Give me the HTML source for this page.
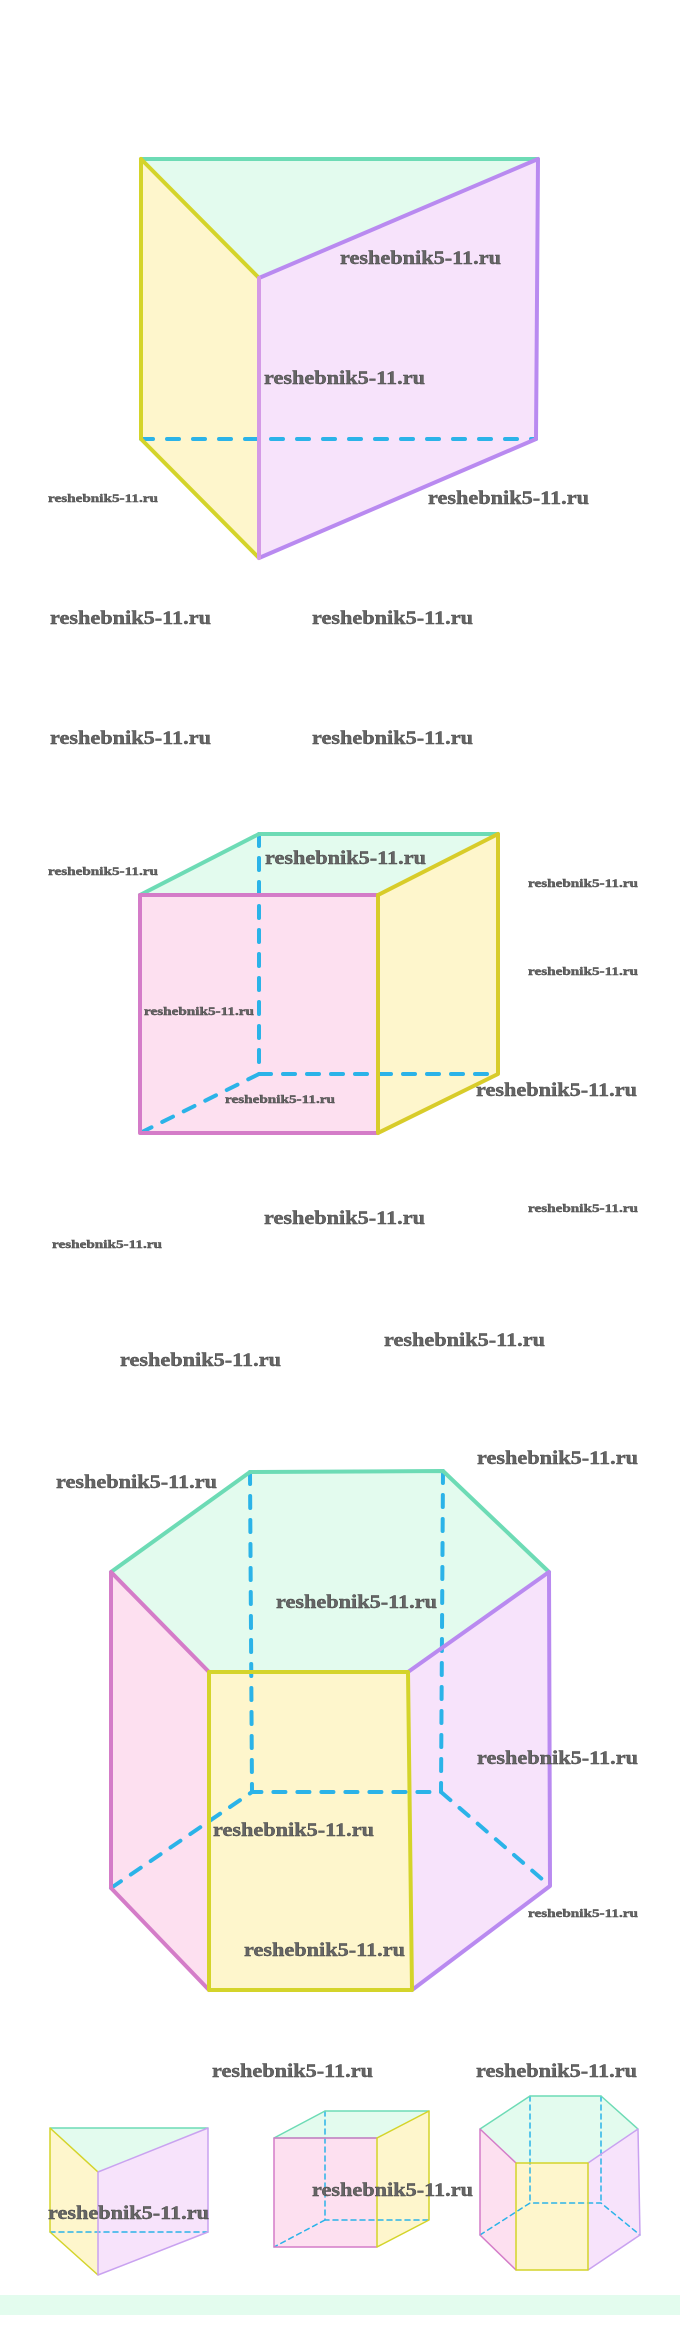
<!DOCTYPE html>
<html><head><meta charset="utf-8"><style>
html,body{margin:0;padding:0;background:#fff;}
svg{display:block;}
text{font-family:"Liberation Serif",serif;font-weight:bold;fill:#666;stroke:#444;stroke-width:0.4;}
.L{font-size:19px;}
.S{font-size:12px;}
</style></head><body>
<svg width="680" height="2348" viewBox="0 0 680 2348" xmlns="http://www.w3.org/2000/svg">
<g stroke-linejoin="round" stroke-linecap="round">
<!-- Triangle prism -->
<polygon points="141,159 538,159 259,278" fill="#e3fbee"/>
<polygon points="141,159 259,278 259,558 141,439" fill="#fef6cc"/>
<polygon points="259,278 538,159 536,439 259,558" fill="#f7e3fb"/>
<line x1="141" y1="439" x2="536" y2="439" stroke="#2bb3e8" stroke-width="4" stroke-dasharray="12,14"/>
<line x1="141" y1="159" x2="538" y2="159" stroke="#6ddbb5" stroke-width="4"/>
<polyline points="141,159 259,278" fill="none" stroke="#d4d42a" stroke-width="4"/>
<polyline points="141,159 141,439 259,558" fill="none" stroke="#d4d42a" stroke-width="4"/>
<polyline points="259,278 538,159 536,439 259,558" fill="none" stroke="#b98af0" stroke-width="4"/>
<line x1="259" y1="278" x2="259" y2="558" stroke="#d49ae6" stroke-width="4"/>

<!-- Cube -->
<polygon points="140,895 259,834 498,834 378,895" fill="#e3fbee"/>
<rect x="140" y="895" width="238" height="238" fill="#fde0f0"/>
<polygon points="378,895 498,834 498,1074 378,1133" fill="#fef6cc"/>
<polyline points="259,834 259,1074 498,1074" fill="none" stroke="#2bb3e8" stroke-width="4" stroke-dasharray="12,12"/>
<line x1="259" y1="1074" x2="140" y2="1133" stroke="#2bb3e8" stroke-width="4" stroke-dasharray="12,12"/>
<polyline points="140,895 259,834 498,834" fill="none" stroke="#6ddbb5" stroke-width="4"/>
<line x1="140" y1="895" x2="378" y2="895" stroke="#7fcfa8" stroke-width="4"/>
<polyline points="378,895 140,895 140,1133 378,1133" fill="none" stroke="#d47cc8" stroke-width="4"/>
<polyline points="378,895 498,834 498,1074 378,1133 378,895" fill="none" stroke="#d8cc2a" stroke-width="4"/>

<!-- Hexagonal prism -->
<polygon points="250,1472 443,1471 549,1572 408,1672 209,1672 111,1572" fill="#e3fbee"/>
<polygon points="111,1572 209,1672 209,1990 111,1888" fill="#fde0f0"/>
<rect x="209" y="1672" width="201" height="318" fill="#fef6cc"/>
<polygon points="408,1672 549,1572 550,1886 412,1990" fill="#f7e3fb"/>
<g fill="none" stroke="#2bb3e8" stroke-width="4" stroke-dasharray="12,12">
<line x1="250" y1="1472" x2="252" y2="1792"/>
<line x1="443" y1="1471" x2="441" y2="1792"/>
<polyline points="111,1888 252,1792 441,1792 550,1886"/>
</g>
<polyline points="111,1572 250,1472 443,1471 549,1572" fill="none" stroke="#6ddbb5" stroke-width="4"/>
<polyline points="209,1672 111,1572 111,1888 209,1990" fill="none" stroke="#d47cc8" stroke-width="4"/>
<polyline points="408,1672 549,1572 550,1886 412,1990" fill="none" stroke="#b98af0" stroke-width="4"/>
<polygon points="209,1672 408,1672 412,1990 209,1990" fill="none" stroke="#d4d42a" stroke-width="4"/>

<!-- small triangle -->
<polygon points="50,2128 208,2128 98,2172" fill="#e3fbee"/>
<polygon points="50,2128 98,2172 98,2275 50,2232" fill="#fef6cc"/>
<polygon points="98,2172 208,2128 208,2232 98,2275" fill="#f7e3fb"/>
<line x1="50" y1="2232" x2="208" y2="2232" stroke="#2bb3e8" stroke-width="1.5" stroke-dasharray="5,4"/>
<line x1="50" y1="2128" x2="208" y2="2128" stroke="#6ddbb5" stroke-width="1.5"/>
<polyline points="98,2172 50,2128 50,2232 98,2275" fill="none" stroke="#d4d42a" stroke-width="1.5"/>
<polyline points="98,2172 208,2128 208,2232 98,2275 98,2172" fill="none" stroke="#c9a2f0" stroke-width="1.5"/>

<!-- small cube -->
<polygon points="274,2138 325,2111 429,2111 377,2138" fill="#e3fbee"/>
<rect x="274" y="2138" width="103" height="109" fill="#fde0f0"/>
<polygon points="377,2138 429,2111 429,2220 377,2247" fill="#fef6cc"/>
<polyline points="325,2111 325,2220 429,2220" fill="none" stroke="#2bb3e8" stroke-width="1.5" stroke-dasharray="5,4"/>
<line x1="325" y1="2220" x2="274" y2="2247" stroke="#2bb3e8" stroke-width="1.5" stroke-dasharray="5,4"/>
<polyline points="274,2138 325,2111 429,2111" fill="none" stroke="#6ddbb5" stroke-width="1.5"/>
<line x1="274" y1="2138" x2="377" y2="2138" stroke="#6ddbb5" stroke-width="1.5"/>
<polyline points="377,2138 274,2138 274,2247 377,2247" fill="none" stroke="#d47cc8" stroke-width="1.5"/>
<polygon points="377,2138 429,2111 429,2220 377,2247" fill="none" stroke="#d4d42a" stroke-width="1.5"/>

<!-- small hex -->
<polygon points="530,2096 601,2096 638,2129 588,2163 516,2163 480,2129" fill="#e3fbee"/>
<polygon points="480,2129 516,2163 516,2270 480,2235" fill="#fde0f0"/>
<rect x="516" y="2163" width="72" height="107" fill="#fef6cc"/>
<polygon points="588,2163 638,2129 640,2235 588,2270" fill="#f7e3fb"/>
<g fill="none" stroke="#2bb3e8" stroke-width="1.5" stroke-dasharray="5,4">
<line x1="530" y1="2096" x2="530" y2="2203"/>
<line x1="601" y1="2096" x2="601" y2="2203"/>
<polyline points="480,2235 530,2203 601,2203 640,2235"/>
</g>
<polyline points="480,2129 530,2096 601,2096 638,2129" fill="none" stroke="#6ddbb5" stroke-width="1.5"/>
<polyline points="516,2163 480,2129 480,2235 516,2270" fill="none" stroke="#d47cc8" stroke-width="1.5"/>
<polyline points="588,2163 638,2129 640,2235 588,2270" fill="none" stroke="#c9a2f0" stroke-width="1.5"/>
<polygon points="516,2163 588,2163 588,2270 516,2270" fill="none" stroke="#d4d42a" stroke-width="1.5"/>
</g>

<rect x="0" y="2295" width="680" height="20" fill="#e3fcee"/>

<!-- labels -->
<g>
<text class="L" x="340" y="264" textLength="161" lengthAdjust="spacingAndGlyphs">reshebnik5-11.ru</text>
<text class="L" x="264" y="384" textLength="161" lengthAdjust="spacingAndGlyphs">reshebnik5-11.ru</text>
<text class="S" x="48" y="502" textLength="110" lengthAdjust="spacingAndGlyphs">reshebnik5-11.ru</text>
<text class="L" x="428" y="504" textLength="161" lengthAdjust="spacingAndGlyphs">reshebnik5-11.ru</text>
<text class="L" x="50" y="624" textLength="161" lengthAdjust="spacingAndGlyphs">reshebnik5-11.ru</text>
<text class="L" x="312" y="624" textLength="161" lengthAdjust="spacingAndGlyphs">reshebnik5-11.ru</text>
<text class="L" x="50" y="744" textLength="161" lengthAdjust="spacingAndGlyphs">reshebnik5-11.ru</text>
<text class="L" x="312" y="744" textLength="161" lengthAdjust="spacingAndGlyphs">reshebnik5-11.ru</text>

<text class="L" x="265" y="864" textLength="161" lengthAdjust="spacingAndGlyphs">reshebnik5-11.ru</text>
<text class="S" x="48" y="875" textLength="110" lengthAdjust="spacingAndGlyphs">reshebnik5-11.ru</text>
<text class="S" x="528" y="887" textLength="110" lengthAdjust="spacingAndGlyphs">reshebnik5-11.ru</text>
<text class="S" x="528" y="975" textLength="110" lengthAdjust="spacingAndGlyphs">reshebnik5-11.ru</text>
<text class="S" x="144" y="1015" textLength="110" lengthAdjust="spacingAndGlyphs">reshebnik5-11.ru</text>
<text class="S" x="225" y="1103" textLength="110" lengthAdjust="spacingAndGlyphs">reshebnik5-11.ru</text>
<text class="L" x="476" y="1096" textLength="161" lengthAdjust="spacingAndGlyphs">reshebnik5-11.ru</text>
<text class="L" x="264" y="1224" textLength="161" lengthAdjust="spacingAndGlyphs">reshebnik5-11.ru</text>
<text class="S" x="528" y="1212" textLength="110" lengthAdjust="spacingAndGlyphs">reshebnik5-11.ru</text>
<text class="S" x="52" y="1248" textLength="110" lengthAdjust="spacingAndGlyphs">reshebnik5-11.ru</text>
<text class="L" x="384" y="1346" textLength="161" lengthAdjust="spacingAndGlyphs">reshebnik5-11.ru</text>
<text class="L" x="120" y="1366" textLength="161" lengthAdjust="spacingAndGlyphs">reshebnik5-11.ru</text>

<text class="L" x="56" y="1488" textLength="161" lengthAdjust="spacingAndGlyphs">reshebnik5-11.ru</text>
<text class="L" x="477" y="1464" textLength="161" lengthAdjust="spacingAndGlyphs">reshebnik5-11.ru</text>
<text class="L" x="276" y="1608" textLength="161" lengthAdjust="spacingAndGlyphs">reshebnik5-11.ru</text>
<text class="L" x="477" y="1764" textLength="161" lengthAdjust="spacingAndGlyphs">reshebnik5-11.ru</text>
<text class="L" x="213" y="1836" textLength="161" lengthAdjust="spacingAndGlyphs">reshebnik5-11.ru</text>
<text class="S" x="528" y="1917" textLength="110" lengthAdjust="spacingAndGlyphs">reshebnik5-11.ru</text>
<text class="L" x="244" y="1956" textLength="161" lengthAdjust="spacingAndGlyphs">reshebnik5-11.ru</text>

<text class="L" x="212" y="2077" textLength="161" lengthAdjust="spacingAndGlyphs">reshebnik5-11.ru</text>
<text class="L" x="476" y="2077" textLength="161" lengthAdjust="spacingAndGlyphs">reshebnik5-11.ru</text>
<text class="L" x="312" y="2196" textLength="161" lengthAdjust="spacingAndGlyphs">reshebnik5-11.ru</text>
<text class="L" x="48" y="2219" textLength="161" lengthAdjust="spacingAndGlyphs">reshebnik5-11.ru</text>
</g>
</svg>
</body></html>
